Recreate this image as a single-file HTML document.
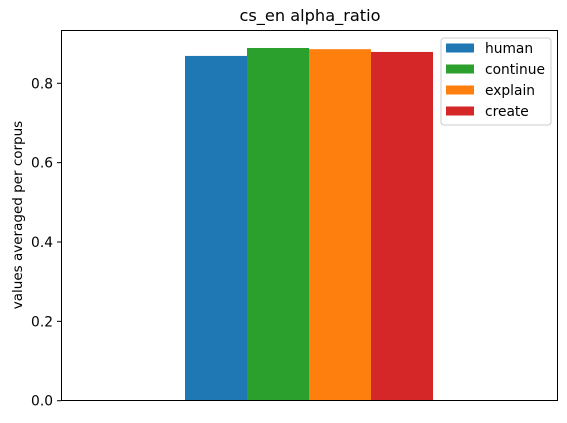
<!DOCTYPE html>
<html><head><meta charset="utf-8"><style>
body{margin:0;background:#fff;}
svg text{font-family:"DejaVu Sans","Liberation Sans",sans-serif;fill:#000;}
</style></head><body>
<svg id="chart" width="567" height="418" xmlns="http://www.w3.org/2000/svg">
<text x="310" y="21" font-size="16.2" text-anchor="middle">cs_en alpha_ratio</text>
<text transform="translate(22,215) rotate(-90)" font-size="13.5" text-anchor="middle">values averaged per corpus</text>
<g id="bars"></g>
<g id="yticks"></g>
<rect x="61.5" y="30.5" width="496" height="370" fill="none" stroke="#000" stroke-width="1"/>
<g id="legend"></g>
</svg>
<script>
const categories = ["human","continue","explain","create"];
const values = [0.869, 0.889, 0.886, 0.879];
const colors = ["#1f77b4","#2ca02c","#ff7f0e","#d62728"];
const yTicks = [0.0,0.2,0.4,0.6,0.8];
const yTickLabels = ["0.0","0.2","0.4","0.6","0.8"];
const NS="http://www.w3.org/2000/svg";
const y0=400.7, pxPerUnit=396.75;
function yScale(v){return y0-v*pxPerUnit;}
const barLeft=185, barW=62;
function xScale(i){return barLeft+i*barW;}
const bars=document.getElementById('bars');
values.forEach((v,i)=>{
  const r=document.createElementNS(NS,'rect');
  r.setAttribute('x',xScale(i));r.setAttribute('y',yScale(v));
  r.setAttribute('width',barW);r.setAttribute('height',y0-yScale(v));
  r.setAttribute('fill',colors[i]);
  
  
  bars.appendChild(r);
});
const yt=document.getElementById('yticks');
yTicks.forEach((t,i)=>{
  const y=yScale(t);
  const l=document.createElementNS(NS,'line');
  l.setAttribute('x1',57);l.setAttribute('x2',61.5);l.setAttribute('y1',y);l.setAttribute('y2',y);
  l.setAttribute('stroke','#000');
  
  
  yt.appendChild(l);
  const tx=document.createElementNS(NS,'text');
  tx.setAttribute('x',53);tx.setAttribute('y',y+5);tx.setAttribute('text-anchor','end');tx.setAttribute('font-size','13.8');
  tx.textContent=yTickLabels[i];
  
  
  yt.appendChild(tx);
});
const lg=document.getElementById('legend');
const box=document.createElementNS(NS,'rect');
box.setAttribute('x',441);box.setAttribute('y',38);box.setAttribute('width',110);box.setAttribute('height',87);
box.setAttribute('rx',3);box.setAttribute('fill','#fff');box.setAttribute('fill-opacity','0.8');box.setAttribute('stroke','#ccc');


lg.appendChild(box);
categories.forEach((c,i)=>{
  const cy=48+i*21;
  const p=document.createElementNS(NS,'rect');
  p.setAttribute('x',446);p.setAttribute('y',cy-4.5);p.setAttribute('width',28);p.setAttribute('height',9);p.setAttribute('fill',colors[i]);
  
  
  lg.appendChild(p);
  const t=document.createElementNS(NS,'text');
  t.setAttribute('x',485);t.setAttribute('y',cy+5);t.setAttribute('font-size','13.8');t.textContent=c;
  
  
  lg.appendChild(t);
});
</script>
</body></html>
